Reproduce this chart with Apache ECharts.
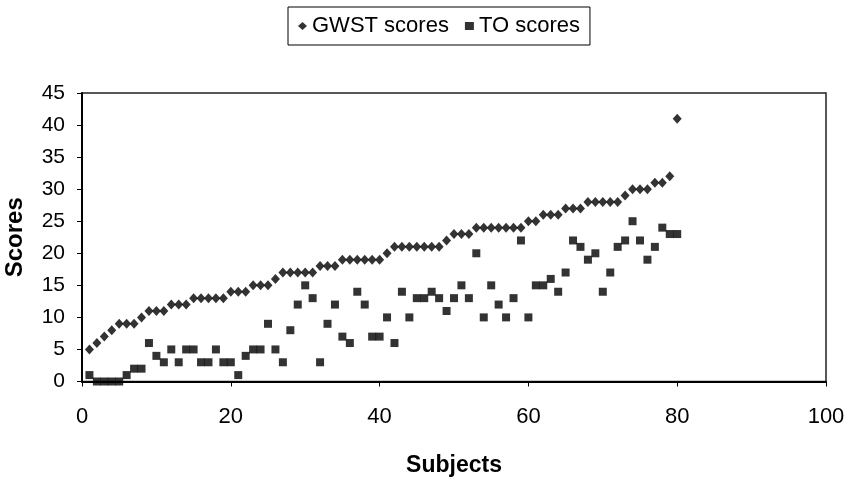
<!DOCTYPE html>
<html>
<head>
<meta charset="utf-8">
<script src="https://cdn.jsdelivr.net/npm/echarts@6/dist/echarts.min.js"></script>
<style>
html,body{margin:0;padding:0;background:#fff;}
#chart{width:850px;height:478px;}
</style>
</head>
<body>
<div id="chart"></div>
<script>
// Subject numbers 1..80
const subjects = [1,2,3,4,5,6,7,8,9,10,11,12,13,14,15,16,17,18,19,20,21,22,23,24,25,26,27,28,29,30,31,32,33,34,35,36,37,38,39,40,41,42,43,44,45,46,47,48,49,50,51,52,53,54,55,56,57,58,59,60,61,62,63,64,65,66,67,68,69,70,71,72,73,74,75,76,77,78,79,80];
const gwstScores = [5,6,7,8,9,9,9,10,11,11,11,12,12,12,13,13,13,13,13,14,14,14,15,15,15,16,17,17,17,17,17,18,18,18,19,19,19,19,19,19,20,21,21,21,21,21,21,21,22,23,23,23,24,24,24,24,24,24,24,25,25,26,26,26,27,27,27,28,28,28,28,28,29,30,30,30,31,31,32,41];
const toScores = [1,0,0,0,0,1,2,2,6,4,3,5,3,5,5,3,3,5,3,3,1,4,5,5,9,5,3,8,12,15,13,3,9,12,7,6,14,12,7,7,10,6,14,10,13,13,14,13,11,13,15,13,20,10,15,12,10,13,22,10,15,15,16,14,17,22,21,19,20,14,17,21,22,25,22,19,21,24,23,23];
const xTicks = {min: 0, max: 100, interval: 20};
const yTicks = {min: 0, max: 45, interval: 5};
const seriesNames = ['GWST scores', 'TO scores'];

const font = "'Liberation Sans', Arial, Helvetica, sans-serif";
const chart = echarts.init(document.getElementById('chart'), null, {renderer: 'canvas'});
chart.setOption({
  animation: false,
  backgroundColor: '#fff',
  legend: {
    left: 288, top: 7,
    padding: [8, 10],
    borderColor: '#000', borderWidth: 1,
    itemWidth: 9, itemHeight: 8, itemGap: 16,
    textStyle: {fontFamily: font, fontSize: 22, color: '#000'},
    data: [
      {name: seriesNames[0], icon: 'diamond'},
      {name: seriesNames[1], icon: 'rect'}
    ]
  },
  grid: {
    left: 82, top: 93, right: 24, bottom: 96.5,
    containLabel: false, outerBoundsMode: 'none',
    show: true, borderColor: '#222', borderWidth: 1.5, backgroundColor: '#fff'
  },
  xAxis: {
    type: 'value', min: xTicks.min, max: xTicks.max, interval: xTicks.interval,
    name: 'Subjects', nameLocation: 'middle', nameGap: 73,
    nameTextStyle: {fontFamily: font, fontSize: 23, fontWeight: 'bold', color: '#000'},
    axisLine: {show: true, onZero: false, lineStyle: {color: '#000', width: 2}},
    axisTick: {show: true, inside: false, length: 5, lineStyle: {color: '#000', width: 1}},
    axisLabel: {fontFamily: font, fontSize: 22, color: '#000', margin: 24},
    splitLine: {show: false}
  },
  yAxis: {
    type: 'value', min: yTicks.min, max: yTicks.max, interval: yTicks.interval,
    name: 'Scores', nameLocation: 'middle', nameGap: 55,
    nameTextStyle: {fontFamily: font, fontSize: 24, fontWeight: 'bold', color: '#000'},
    axisLine: {show: true, onZero: false, lineStyle: {color: '#000', width: 2}},
    axisTick: {show: true, inside: false, length: 5, lineStyle: {color: '#000', width: 1}},
    axisLabel: {fontFamily: font, fontSize: 21, color: '#000', margin: 17},
    splitLine: {show: false}
  },
  series: [
    {
      name: seriesNames[0], type: 'scatter', symbol: 'diamond', symbolSize: [9, 10],
      itemStyle: {color: '#000'},
      data: subjects.map((s, i) => [s, gwstScores[i]])
    },
    {
      name: seriesNames[1], type: 'scatter', symbol: 'rect', symbolSize: 8,
      itemStyle: {color: '#000'},
      data: subjects.map((s, i) => [s, toScores[i]])
    }
  ]
});
</script>
</body>
</html>
